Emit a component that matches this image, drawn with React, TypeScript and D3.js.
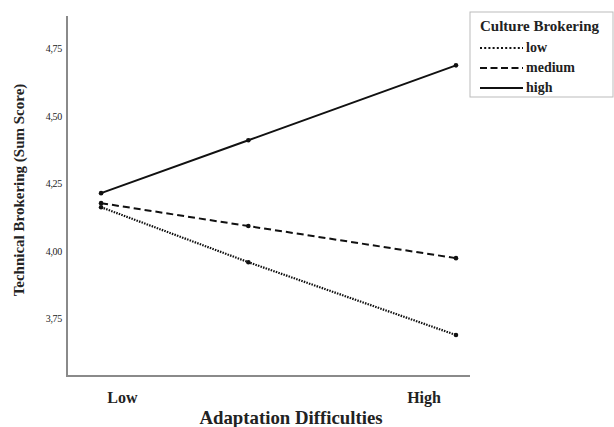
import React from "react";
import * as d3 from "d3";

// Predictor positions (standardized adaptation difficulties)
const xPoints = [-1, -0.17, 1];
const seriesNames = ["low", "medium", "high"];
const lowValues = [4.163, 3.959, 3.689];
const mediumValues = [4.178, 4.093, 3.974];
const highValues = [4.215, 4.411, 4.689];
const yTicks = [3.75, 4.0, 4.25, 4.5, 4.75];
const xTickLabels = ["Low", "High"];
const xTickValues = [-0.88, 0.82];

const W = 614;
const H = 427;
const FONT = "Liberation Serif, Times New Roman, Times, serif";

export default function App() {
  const x = d3.scaleLinear().domain([-1.192, 1.079]).range([67, 470]);
  const y = d3.scaleLinear().domain([3.537, 4.872]).range([376, 16]);
  const fmt = (v: number) => d3.format(".2f")(v).replace(".", ",");

  const series = [
    { name: seriesNames[0], values: lowValues, dash: "1.5,1.2", legendDash: "2,2.2", width: 2.2 },
    { name: seriesNames[1], values: mediumValues, dash: "7,4", legendDash: "7,3.5", width: 2 },
    { name: seriesNames[2], values: highValues, dash: "none", legendDash: "none", width: 2 },
  ];
  const line = d3
    .line<number>()
    .x((_, i) => x(xPoints[i]))
    .y((d) => y(d));

  const ts = { fontFamily: FONT } as React.CSSProperties;

  return (
    <svg
      width={W}
      height={H}
      style={{ position: "absolute", left: 0, top: 0, background: "#fff", fontFamily: FONT }}
    >
      <rect x={0} y={0} width={W} height={H} fill="#fff" />
      {/* axes */}
      <line x1={x.range()[0]} x2={x.range()[0]} y1={y.range()[1]} y2={y.range()[0] + 1} stroke="#8a8a8a" strokeWidth={2} />
      <line x1={x.range()[0]} x2={x.range()[1]} y1={y.range()[0]} y2={y.range()[0]} stroke="#8a8a8a" strokeWidth={2} />
      {yTicks.map((t) => (
        <text key={t} x={62} y={y(t)} dy="0.35em" textAnchor="end" fontSize={10} fill="#222" style={ts} letterSpacing={-0.3}>
          {fmt(t)}
        </text>
      ))}
      {xTickLabels.map((l, i) => (
        <text key={l} x={x(xTickValues[i])} y={403} textAnchor="middle" fontSize={16} fontWeight="bold" fill="#222" style={ts}>
          {l}
        </text>
      ))}
      <text x={291} y={424} textAnchor="middle" fontSize={18.8} fontWeight="bold" fill="#222" style={ts}>
        Adaptation Difficulties
      </text>
      <text
        transform={`translate(24,190) rotate(-90)`}
        textAnchor="middle"
        fontSize={15}
        fontWeight="bold"
        fill="#222"
        style={ts}
      >
        Technical Brokering (Sum Score)
      </text>
      {/* lines */}
      {series.map((s) => (
        <g key={s.name}>
          <path d={line(s.values) || ""} fill="none" stroke="#111" strokeWidth={s.width} strokeDasharray={s.dash} />
          {s.values.map((v, i) => (
            <circle key={i} cx={x(xPoints[i])} cy={y(v)} r={2.3} fill="#111" />
          ))}
        </g>
      ))}
      {/* legend */}
      <rect x={470} y={12} width={143} height={85} fill="#fff" stroke="#bbb" strokeWidth={1} />
      <text x={480} y={31} fontSize={15} fontWeight="bold" fill="#222" style={ts}>
        Culture Brokering
      </text>
      {series.map((s, i) => (
        <g key={s.name} transform={`translate(0,${i * 20})`}>
          <line x1={480} x2={523} y1={48} y2={48} stroke="#111" strokeWidth={s.width} strokeDasharray={s.legendDash} />
          <text x={526} y={52} fontSize={14} fontWeight="bold" fill="#222" style={ts}>
            {s.name}
          </text>
        </g>
      ))}
    </svg>
  );
}
